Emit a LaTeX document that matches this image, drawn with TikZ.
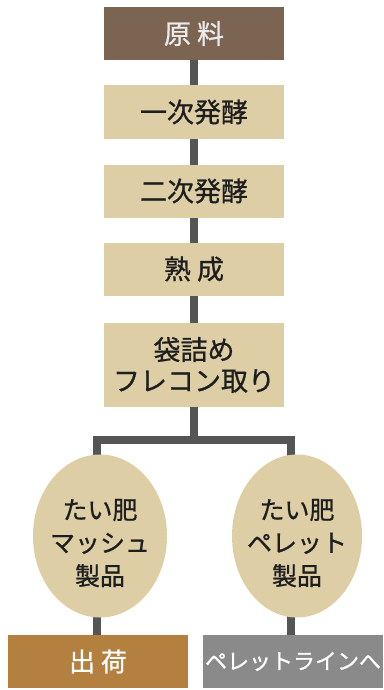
\documentclass[tikz,border=0pt]{standalone}
\usepackage{fontspec}
\setmainfont{Noto Sans CJK JP}
\newfontfamily\medfont{Noto Sans CJK JP}[FakeBold=0.8]
\usetikzlibrary{shapes.geometric,backgrounds}
\definecolor{topbrown}{HTML}{7B6452}
\definecolor{tan}{HTML}{DDCEA6}
\definecolor{conn}{HTML}{555555}
\definecolor{ship}{HTML}{B3803F}
\definecolor{pgray}{HTML}{8A8A8A}
\definecolor{ink}{HTML}{1E1E1E}
\begin{document}
\begin{tikzpicture}[x=1pt,y=-1pt,
  stepbox/.style={rectangle, fill=tan, minimum width=180pt, minimum height=53pt, inner sep=0pt, text=ink, align=center, font=\fontsize{27}{31}\selectfont\medfont},
  prod/.style={ellipse, fill=tan, inner sep=0pt, text=ink, align=center, font=\fontsize{25}{33}\selectfont\medfont},
  endbox/.style={rectangle, minimum width=180pt, minimum height=53pt, inner sep=0pt, text=white, font=\fontsize{26}{30}\selectfont\medfont},
  connector/.style={draw=conn, line width=8pt}]
\useasboundingbox (0,0) rectangle (383,690);
\node[stepbox, fill=topbrown, text=white!92!black] (raw) at (194,33.5) {原 料};
\node[stepbox] (f1) at (194,112) {一次発酵};
\node[stepbox] (f2) at (194,191) {二次発酵};
\node[stepbox] (mat) at (194,269) {熟 成};
\node[stepbox, minimum height=84pt] (bag) at (194,365) {袋詰め\\フレコン取り};
\node[prod, minimum width=134pt, minimum height=163pt] (mash) at (100,536) {};
\node[prod, minimum width=130pt, minimum height=163pt] (pel) at (297,536) {};
\node[prod, fill=none] (mashtext) at (100,543) {たい肥\\マッシュ\\製品};
\node[prod, fill=none] (peltext) at (297,543) {たい肥\\ペレット\\製品};
\node[endbox, fill=ship] (ship) at (98,661.5) {出 荷};
\node[endbox, fill=pgray, font=\fontsize{22}{26}\selectfont\medfont] (line) at (293,661.5) {ペレットラインへ};
\coordinate (jl) at (97,440);
\coordinate (jr) at (291,440);
\begin{scope}[on background layer]
  \draw[connector] (raw) -- (bag);
  \draw[connector] (bag) -- (bag |- jl);
  \draw[connector, line join=miter] (jl |- mash) -- (jl) -- (jr) -- (jr |- pel);
  \draw[connector] (jl |- mash) -- (jl |- ship);
  \draw[connector] (jr |- pel) -- (jr |- line);
\end{scope}
\end{tikzpicture}
\end{document}
